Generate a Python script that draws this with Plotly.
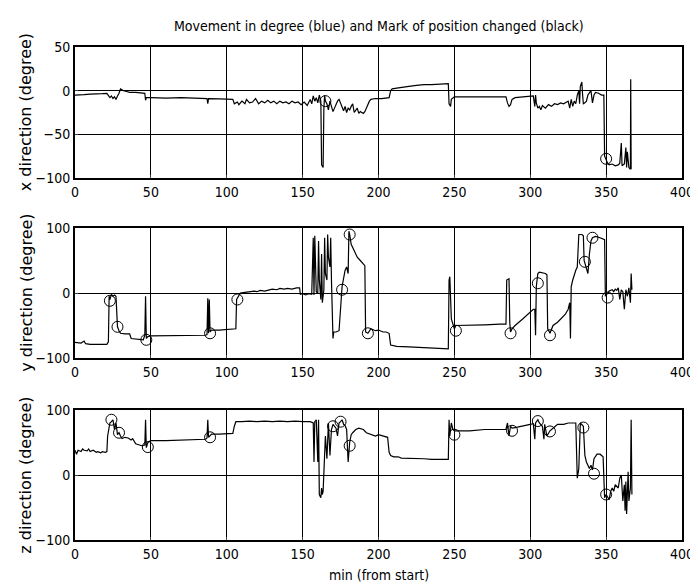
import plotly.graph_objects as go
from plotly.subplots import make_subplots

# ---------------- data ----------------
t_x = [0, 3, 6, 10, 14, 18, 21, 22, 23, 24, 25, 26, 27, 28, 29, 30, 31, 32, 34, 36, 40, 44, 46, 46.5, 47, 50, 60, 70, 80, 85, 87, 87.5, 88, 95, 100, 104, 105, 107, 108, 110, 112, 113, 115, 117, 119, 121, 123, 125, 127, 129, 131, 133, 135, 137, 139, 141, 143, 145, 147, 149, 151, 153, 155, 156, 157, 158, 159, 160, 161, 162, 162.5, 163.5, 164, 164.5, 165, 166, 167, 168, 169, 170, 171, 172, 173, 174, 175, 176, 177, 178, 179, 180, 181, 182, 183, 184, 185, 186, 187, 188, 189, 190, 191, 192, 193, 194, 195, 198, 202, 205, 207, 208, 209, 212, 215, 220, 225, 230, 235, 240, 245, 246, 246.5, 247.5, 248, 249, 250, 260, 270, 280, 284, 285, 286, 287, 288, 290, 295, 300, 302, 303, 303.5, 304, 305, 306, 307, 308, 310, 312, 314, 316, 318, 320, 322, 324, 325, 326, 327, 328, 329, 330, 331, 332, 332.5, 333, 334, 334.5, 335, 336, 337, 338, 339, 340, 341, 342, 343, 345, 347, 348.5, 349, 350, 351, 352, 354, 356, 358, 359, 360, 360.5, 362, 363, 363.5, 364, 364.5, 365, 366, 366.2, 366.5]
deg_x = [-5, -5, -4.5, -4, -4, -3.5, -3, -5, -8, -6, -9, -7, -10, -6, -3, 2, 1, 0, -1, -2, -2, -2.5, -3, -11, -8, -8, -8.5, -8, -9, -9, -9, -15, -9, -9.5, -10, -10, -15, -13, -16, -12, -15, -10, -14, -13, -9, -15, -12, -14, -11, -14, -12, -15, -12, -14, -13, -15, -12, -14, -13, -16, -13, -17, -10, -15, -6, -12, -8, -14, -5, -12, -85, -88, -20, -5, -12, -15, -22, -12, -18, -24, -20, -15, -12, -10, -15, -20, -23, -18, -25, -20, -22, -18, -15, -25, -22, -20, -26, -24, -25, -26, -24, -20, -15, -12, -10, -9, -9, -8, -8, 0, 2, 3, 4, 5, 6, 7, 7, 7.5, 8, 8, -15, -18, -10, -8, -7, -7, -7, -7, -7, -14, -18, -16, -10, -8, -7, -6, -6, -18, -5, -14, -20, -18, -22, -17, -20, -16, -18, -15, -16, -14, -15, -13, -12, -20, -10, -18, -12, -15, -5, 0, -15, 5, 10, -5, -15, -14, -12, -5, -2, 0, -14, -5, -2, -3, -5, -5, -75, -80, -83, -85, -84, -86, -85, -83, -60, -86, -84, -65, -88, -70, -85, -88, -90, 13, -90]
mark_t_x = [165, 350]
mark_x = [-12, -78]

t_y = [0, 2, 4, 6, 7, 10, 14, 18, 21, 22, 22.5, 23, 24, 25, 26, 27, 28, 29, 30, 33, 36, 37, 40, 44, 45, 46, 46.5, 47, 48, 50, 60, 70, 80, 86, 87, 87.5, 88, 88.5, 89, 90, 95, 100, 105, 106, 106.5, 108, 109, 112, 115, 118, 120, 122, 125, 128, 130, 133, 135, 138, 140, 143, 146, 148, 148.5, 150, 152, 154, 156, 157, 157.5, 158, 159, 160, 160.5, 161, 162, 162.5, 163, 164, 164.5, 165, 166, 166.5, 167, 168, 168.5, 169, 170, 170.5, 172, 174, 175, 175.5, 176, 178, 179, 180, 180.5, 181, 182, 184, 186, 188, 190, 191, 191.5, 193, 195, 198, 200, 203, 205, 207, 208, 212, 220, 230, 240, 245, 246, 246.5, 247, 248, 249, 250, 251, 255, 260, 270, 280, 284, 284.5, 286, 286.5, 287, 288, 290, 295, 300, 302, 303, 303.5, 304, 305, 306, 310, 311, 311.5, 313, 315, 318, 320, 323, 325, 326, 326.5, 327, 328, 329, 330, 331, 332, 334, 335, 335.5, 336, 337, 338, 339, 340, 341, 343, 346, 349, 349.5, 351, 352, 354, 355, 356, 357, 358, 359, 360, 361, 362, 363, 364, 365, 366, 366.5, 367]
deg_y = [-76, -76, -77, -74, -78, -79, -79, -79, -79, -75, -5, -10, -2, -5, -3, -5, -52, -58, -62, -63, -63, -70, -71, -72, -72, -65, -5, -70, -67, -66, -66, -66, -65, -65, -64, -8, -62, -10, -60, -57, -57, -56, -56, -55, -10, -5, 0, 1, 2, 3, 2, 4, 3, 5, 6, 5, 7, 6, 7, 6, 8, 8, -2, -1, -3, -1, -2, 85, -3, 88, 2, 0, 80, 20, -10, 60, -15, 5, 85, 30, 20, 90, 55, 40, 85, 20, -70, -60, -60, -58, -20, 5, 10, 35, 40, 30, 95, 90, 75, 65, 55, 50, 45, 42, -60, -62, -55, -58, -57, -60, -60, -62, -80, -82, -83, -84, -85, -85, -86, 20, 25, -40, -50, -55, -50, -50, -50, -49, -48, -48, 20, 22, -45, -60, -55, -50, -40, -30, -25, -25, -65, 10, 30, 32, 30, 28, -55, -62, -50, -45, -40, -33, -25, -15, -70, 10, 20, 30, 35, 40, 90, 90, 88, 50, 45, 40, 30, 60, 80, 85, 87, 85, 82, -5, 0, 3, 5, 2, 6, 4, 8, -10, 5, 2, -25, 5, -5, 8, -15, 30, 5]
mark_t_y = [23, 28, 47, 89, 107, 176, 181, 193, 251, 287, 305, 313, 336, 341, 351]
mark_y = [-12, -52, -72, -62, -10, 5, 90, -62, -58, -62, 15, -65, 48, 85, -7]

t_z = [0, 1, 2, 4, 5, 6, 8, 9, 10, 12, 14, 15, 17, 18, 20, 21, 21.5, 22, 23, 24, 25, 26, 27, 28, 29, 30, 31, 33, 35, 37, 38, 40, 42, 44, 46, 46.5, 47, 48, 49, 50, 60, 70, 80, 86, 87, 87.5, 88, 89, 90, 95, 100, 104, 105, 106, 110, 115, 120, 125, 130, 135, 140, 145, 150, 155, 157, 157.5, 158, 159, 160, 160.5, 161, 162, 162.5, 163, 163.5, 164, 165, 166, 167, 168, 169, 170, 171, 172, 173, 174, 175, 176, 177, 178, 179, 179.5, 180, 181, 182, 183, 185, 187, 190, 192, 195, 198, 200, 203, 206, 207, 208, 210, 213, 215, 220, 225, 230, 235, 240, 245, 246, 246.5, 247, 248, 249, 250, 255, 260, 270, 280, 284, 285, 286, 287, 288, 290, 295, 300, 302, 303, 303.5, 305, 306, 308, 309, 309.5, 311, 313, 315, 318, 322, 325, 330, 331, 332, 332.5, 333, 335, 336, 337, 338, 339, 340, 341, 342, 344, 346, 348, 349, 350, 352, 353, 354, 355, 356, 358, 359, 360, 361, 362, 362.5, 363, 363.5, 364, 364.5, 365, 366, 366.5, 367]
deg_z = [38, 32, 38, 36, 40, 38, 37, 40, 36, 38, 35, 36, 34, 36, 35, 36, 60, 65, 80, 82, 85, 70, 80, 62, 65, 60, 56, 58, 57, 54, 56, 48, 46, 45, 46, 85, 42, 50, 52, 53, 53, 54, 55, 55, 57, 85, 58, 60, 63, 63, 63, 64, 75, 82, 82, 83, 82, 83, 82, 83, 82, 83, 82, 82, 80, 20, 82, 85, 20, 85, -30, -35, -20, -30, -25, 0, 60, 25, 80, 30, 70, 78, 75, 72, 60, 80, 82, 85, 78, 76, 70, 40, 20, 50, 62, 65, 70, 72, 70, 65, 62, 60, 62, 60, 58, 35, 30, 28, 28, 26, 26, 25, 25, 24, 24, 23, 24, 85, 60, 80, 70, 68, 68, 68, 70, 70, 70, 80, 60, 75, 72, 73, 75, 78, 79, 55, 80, 85, 80, 75, 55, 78, 60, 68, 72, 78, 78, 80, 80, -5, 10, 78, 80, 75, 30, 20, 15, 10, 15, 8, 25, 32, 32, 28, -35, -30, -38, -25, -20, -25, -15, -20, -5, 0, -40, -15, -55, -10, -60, -30, 5, -40, -20, 85, -30]
mark_t_z = [24, 29, 48, 89, 170, 175, 181, 250, 288, 305, 313, 335, 342, 350]
mark_z = [85, 65, 43, 58, 75, 82, 45, 62, 68, 83, 67, 73, 2, -30]

x_ticks = [0, 50, 100, 150, 200, 250, 300, 350, 400]
y1_ticks = [-100, -50, 0, 50]
y23_ticks = [-100, 0, 100]
y_titles = ["x direction (degree)", "y direction (degree)", "z direction (degree)"]
title_text = "Movement in degree (blue) and Mark of position changed (black)"
x_title = "min (from start)"

# ---------------- figure ----------------
W, H = 698, 584
ML, MR, MT, MB = 67, 15, 39, 52
ph = H - MT - MB
pw = W - ML - MR

def dom(top_px, bot_px):
    return [(H - MB - bot_px) / ph, (H - MB - top_px) / ph]

doms = [dom(39, 170), dom(220, 350), dom(402, 532)]

fig = make_subplots(rows=3, cols=1)
series = [(t_x, deg_x, mark_t_x, mark_x), (t_y, deg_y, mark_t_y, mark_y), (t_z, deg_z, mark_t_z, mark_z)]
for i, (tt, vv, mt, mv) in enumerate(series, start=1):
    fig.add_trace(go.Scatter(x=tt, y=vv, mode="lines", line=dict(color="black", width=1.2),
                             showlegend=False, hoverinfo="skip"), row=i, col=1)
    fig.add_trace(go.Scatter(x=mt, y=mv, mode="markers",
                             marker=dict(symbol="circle-open", size=11, color="black", line=dict(width=1)),
                             showlegend=False), row=i, col=1)

narrow = "Liberation Sans Narrow, Arial Narrow, DejaVu Sans Condensed, sans-serif"
tick_font = dict(family=narrow, size=14, color="black")
for i in range(1, 4):
    fig.update_xaxes(range=[0, 400], tickvals=x_ticks, showgrid=True, gridcolor="black", gridwidth=1,
                     showline=True, mirror=True, linecolor="black", linewidth=2, ticks="inside", ticklen=3,
                     tickfont=tick_font, zeroline=False, row=i, col=1)
    fig.update_yaxes(range=[-100, 50] if i == 1 else [-100, 100],
                     tickvals=y1_ticks if i == 1 else y23_ticks,
                     showgrid=True, gridcolor="black", gridwidth=1,
                     showline=True, mirror=True, linecolor="black", linewidth=2, ticks="inside", ticklen=3,
                     tickfont=tick_font, zeroline=False, row=i, col=1)
    fig.layout[f"yaxis{'' if i == 1 else i}"].domain = doms[i - 1]

annotations = []
for i, txt in enumerate(y_titles):
    d = doms[i]
    annotations.append(dict(text=txt, xref="paper", yref="paper", x=-50 / pw, y=(d[0] + d[1]) / 2,
                            showarrow=False, textangle=-90, xanchor="center", yanchor="middle",
                            font=dict(family="DejaVu Sans, sans-serif", size=16, color="black")))
annotations.append(dict(text=title_text, xref="paper", yref="paper", x=0.5, y=1 + 21 / ph,
                        showarrow=False, xanchor="center", yanchor="middle",
                        font=dict(family=narrow, size=14, color="black")))
annotations.append(dict(text=x_title, xref="paper", yref="paper", x=0.5, y=-35 / ph,
                        showarrow=False, xanchor="center", yanchor="middle",
                        font=dict(family=narrow, size=14, color="black")))

fig.update_layout(width=W, height=H, margin=dict(l=ML, r=MR, t=MT, b=MB),
                  paper_bgcolor="white", plot_bgcolor="white", annotations=annotations)

fig.write_html("out.html")
